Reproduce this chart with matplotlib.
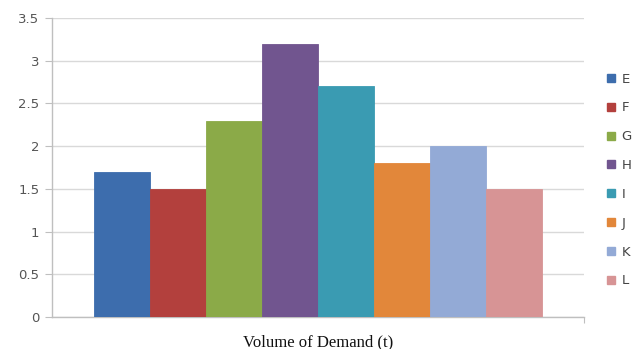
import numpy as np
import matplotlib.pyplot as plt
from matplotlib.lines import Line2D

# demand per item (t)
items = ["E", "F", "G", "H", "I", "J", "K", "L"]
demand = [1.7, 1.5, 2.3, 3.2, 2.7, 1.8, 2.0, 1.5]
colors = ["#3D6DAD", "#B3403D", "#8BAA48", "#71558F", "#3A9BB2", "#E2873A", "#93AAD6", "#D79495"]
yticks = [0, 0.5, 1, 1.5, 2, 2.5, 3, 3.5]
ytick_labels = ["0", "0.5", "1", "1.5", "2", "2.5", "3", "3.5"]

fig = plt.figure(figsize=(6.36, 3.49), dpi=100)
ax = fig.add_axes([52 / 636, 1 - 317 / 349, 532 / 636, 299 / 349])

x = np.arange(len(items))
ax.bar(x, demand, width=1.0, color=colors, edgecolor=colors, linewidth=0.6, zorder=3)

ax.set_xlim(-1.25, len(items) + 0.25)
ax.set_ylim(0, 3.5)
ax.set_yticks(yticks)
ax.set_yticklabels(ytick_labels)
ax.set_xticks([len(items) + 0.25])
ax.set_xticklabels([])

ax.yaxis.grid(True, color="#D9D9D9", linewidth=1.0, zorder=0)
ax.set_axisbelow(True)
for side in ["top", "right"]:
    ax.spines[side].set_visible(False)
for side in ["left", "bottom"]:
    ax.spines[side].set_color("#BFBFBF")
    ax.spines[side].set_linewidth(1.0)

ax.tick_params(axis="y", direction="out", length=5, color="#BFBFBF", labelsize=9.5,
               labelcolor="#555555", pad=4)
ax.tick_params(axis="x", direction="out", length=4, color="#BFBFBF")

ax.set_xlabel("Volume of Demand (t)", family="Liberation Serif", fontsize=12, color="#111111", labelpad=5)

handles = [Line2D([0], [0], marker="s", linestyle="none", markersize=5.5,
                  markerfacecolor=c, markeredgecolor=c) for c in colors]
leg = fig.legend(handles, items, loc="upper left", bbox_to_anchor=(599 / 636, 1 - 66 / 349),
                 frameon=False, fontsize=9.5, handlelength=0.8, handletextpad=0.4,
                 labelspacing=1.2, borderpad=0)
for t in leg.get_texts():
    t.set_color("#444444")

fig.savefig("out.png", dpi=100)
